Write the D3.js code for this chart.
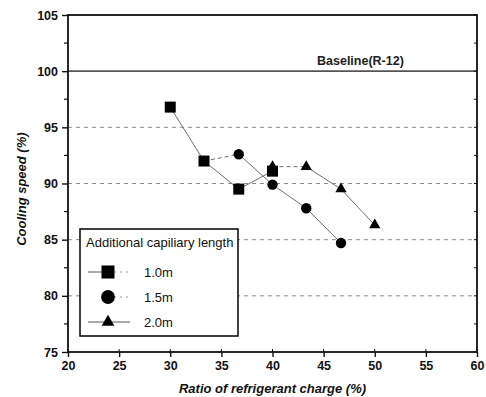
<!DOCTYPE html>
<html>
<head>
<meta charset="utf-8">
<script src="https://cdn.jsdelivr.net/npm/d3@7"></script>
<style>
  html, body { margin: 0; padding: 0; background: #fff; }
  svg { display: block; font-family: "Liberation Sans", Arial, sans-serif; }
</style>
</head>
<body>
<div id="chart"></div>
<script>
// Cooling speed vs refrigerant charge ratio, three capillary lengths.

const xTicks = [20, 25, 30, 35, 40, 45, 50, 55, 60];
const yTicks = [75, 80, 85, 90, 95, 100, 105];
const gridLevels = [80, 85, 90, 95];
const baselineValue = 100;
const baselineLabel = 'Baseline(R-12)';

const seriesNames = ['1.0m', '1.5m', '2.0m'];
const xs10 = [30, 33.3, 36.7, 40];
const ys10 = [96.8, 92.0, 89.5, 91.1];
const xs15 = [36.7, 40, 43.3, 46.7];
const ys15 = [92.6, 89.9, 87.8, 84.7];
const xs20 = [40, 43.3, 46.7, 50];
const ys20 = [91.5, 91.5, 89.5, 86.3];
// segment styles between consecutive points ('s' solid, 'd' dashed)
const segs10 = ['s', 's', 's'];
const segs15 = ['s', 's', 's'];
const segs20 = ['d', 's', 's'];
// dashed link from a 1.0m point into the 1.5m run
const bridges = [{ from: [0, 1], to: [1, 0] }];

const W = 486, H = 397;
const m = { l: 68, r: 9, t: 15, b: 45 };

const x = d3.scaleLinear().domain([20, 60]).range([m.l, W - m.r]);
const y = d3.scaleLinear().domain([75, 105]).range([H - m.b, m.t]);

const svg = d3.select('#chart').append('svg')
  .attr('width', W).attr('height', H).attr('viewBox', `0 0 ${W} ${H}`);

// grid
svg.append('g').selectAll('line').data(gridLevels).join('line')
  .attr('x1', x(20)).attr('x2', x(60))
  .attr('y1', d => y(d)).attr('y2', d => y(d))
  .attr('stroke', '#8a8a8a').attr('stroke-width', 1).attr('stroke-dasharray', '4,4');

svg.append('line')
  .attr('x1', x(20)).attr('x2', x(60))
  .attr('y1', y(baselineValue)).attr('y2', y(baselineValue))
  .attr('stroke', '#555').attr('stroke-width', 1.6);

svg.append('text')
  .attr('x', x(48.6)).attr('y', y(baselineValue) - 6)
  .attr('text-anchor', 'middle')
  .attr('font-size', 12.5).attr('font-weight', 'bold').attr('fill', '#222')
  .text(baselineLabel);

// axes
const xAxis = d3.axisBottom(x).tickValues(xTicks).tickSize(5).tickPadding(4).tickFormat(d3.format('d'));
const yAxis = d3.axisLeft(y).tickValues(yTicks).tickSize(6).tickPadding(4).tickFormat(d3.format('d'));

const gx = svg.append('g').attr('transform', `translate(0,${y(75)})`).call(xAxis);
const gy = svg.append('g').attr('transform', `translate(${x(20)},0)`).call(yAxis);
[gx, gy].forEach(g => {
  g.select('.domain').remove();
  g.selectAll('.tick line').attr('stroke', '#111').attr('stroke-width', 1.4);
  g.selectAll('.tick text').attr('font-size', 12.5).attr('font-weight', 'bold').attr('fill', '#111')
    .attr('font-family', '"Liberation Sans", Arial, sans-serif');
});

// minor ticks
const minorY = d3.range(77.5, 105, 5);
svg.append('g').selectAll('line').data(minorY).join('line')
  .attr('x1', x(20) - 4).attr('x2', x(20))
  .attr('y1', d => y(d)).attr('y2', d => y(d))
  .attr('stroke', '#111').attr('stroke-width', 1.2);
svg.append('g').selectAll('line').data(yTicks.concat(minorY)).join('line')
  .attr('x1', x(60) - 3).attr('x2', x(60))
  .attr('y1', d => y(d)).attr('y2', d => y(d))
  .attr('stroke', '#111').attr('stroke-width', 1);
svg.append('g').selectAll('line').data(xTicks).join('line')
  .attr('x1', d => x(d)).attr('x2', d => x(d))
  .attr('y1', y(75) - 3).attr('y2', y(75))
  .attr('stroke', '#111').attr('stroke-width', 1);

// frame
svg.append('rect')
  .attr('x', x(20)).attr('y', y(105))
  .attr('width', x(60) - x(20)).attr('height', y(75) - y(105))
  .attr('fill', 'none').attr('stroke', '#111').attr('stroke-width', 1.8);

// axis titles
svg.append('text')
  .attr('x', (x(20) + x(60)) / 2).attr('y', H - 4)
  .attr('text-anchor', 'middle')
  .attr('font-size', 13).attr('font-weight', 'bold').attr('font-style', 'italic').attr('fill', '#111')
  .text('Ratio of refrigerant charge (%)');

svg.append('text')
  .attr('transform', `translate(26,${y(89.5)}) rotate(-90)`)
  .attr('text-anchor', 'middle')
  .attr('font-size', 13).attr('font-weight', 'bold').attr('font-style', 'italic').attr('fill', '#111')
  .text('Cooling speed (%)');

// series
const series = [
  { name: seriesNames[0], xs: xs10, ys: ys10, segs: segs10, shape: d3.symbolSquare, size: 121 },
  { name: seriesNames[1], xs: xs15, ys: ys15, segs: segs15, shape: d3.symbolCircle, size: 85 },
  { name: seriesNames[2], xs: xs20, ys: ys20, segs: segs20, shape: d3.symbolTriangle, size: 55 },
];

const lineG = svg.append('g');
function drawSeg(p, q, style) {
  lineG.append('line')
    .attr('x1', x(p[0])).attr('y1', y(p[1]))
    .attr('x2', x(q[0])).attr('y2', y(q[1]))
    .attr('stroke', '#6e6e6e').attr('stroke-width', 1)
    .attr('stroke-dasharray', style === 'd' ? '4,3' : null);
}

series.forEach(s => {
  s.segs.forEach((st, i) => {
    drawSeg([s.xs[i], s.ys[i]], [s.xs[i + 1], s.ys[i + 1]], st);
  });
});
bridges.forEach(b => {
  const a = series[b.from[0]], c = series[b.to[0]];
  drawSeg([a.xs[b.from[1]], a.ys[b.from[1]]], [c.xs[b.to[1]], c.ys[b.to[1]]], 'd');
});

series.forEach(s => {
  svg.append('g').selectAll('path').data(s.xs.map((v, i) => [v, s.ys[i]])).join('path')
    .attr('transform', d => `translate(${x(d[0])},${y(d[1])})`)
    .attr('d', d3.symbol().type(s.shape).size(s.size))
    .attr('fill', '#000');
});

// legend
const lg = svg.append('g').attr('transform', 'translate(80,229)');
lg.append('rect').attr('width', 158).attr('height', 107)
  .attr('fill', '#fff').attr('stroke', '#111').attr('stroke-width', 1.6);
lg.append('text').attr('x', 6).attr('y', 18)
  .attr('font-size', 13).attr('fill', '#111')
  .text('Additional capiliary length');

const legendSizes = [170, 150, 70];
const legendLeft = ['s', null, 's'];
const legendRight = ['d', 'd', 's'];
series.forEach((s, i) => {
  const cy = 43 + i * 25;
  if (legendLeft[i]) {
    lg.append('line').attr('x1', 8).attr('x2', 28).attr('y1', cy).attr('y2', cy)
      .attr('stroke', '#555').attr('stroke-width', 1);
  }
  lg.append('line').attr('x1', 28).attr('x2', 50).attr('y1', cy).attr('y2', cy)
    .attr('stroke', legendRight[i] === 'd' ? '#999' : '#555').attr('stroke-width', 1)
    .attr('stroke-dasharray', legendRight[i] === 'd' ? '2,4' : null);
  lg.append('path').attr('transform', `translate(28,${cy})`)
    .attr('d', d3.symbol().type(s.shape).size(legendSizes[i])).attr('fill', '#000');
  lg.append('text').attr('x', 64).attr('y', cy + 4.5)
    .attr('font-size', 13).attr('fill', '#111').text(s.name);
});
</script>
</body>
</html>
